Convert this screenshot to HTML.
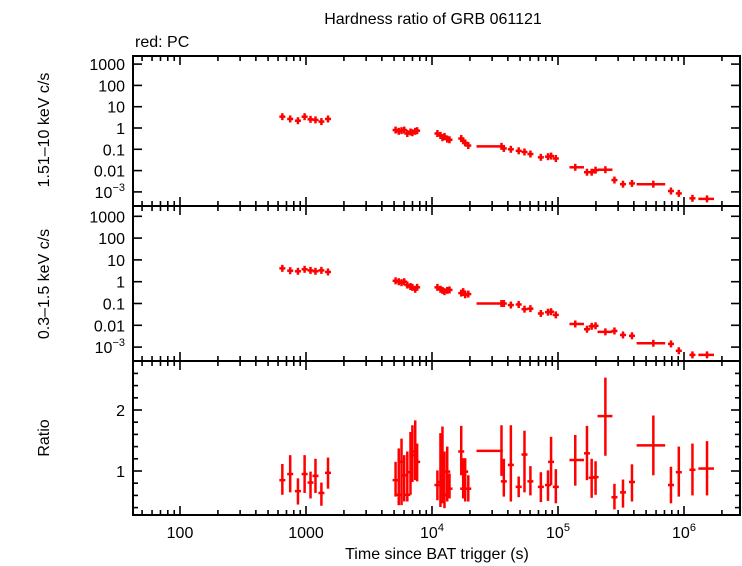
<!DOCTYPE html>
<html><head><meta charset="utf-8"><style>
body{margin:0;background:#fff;}
svg{display:block;font-family:"Liberation Sans",sans-serif;}
</style></head><body>
<svg id="chart" width="742" height="566" viewBox="0 0 742 566">
<text x="433" y="24" font-size="16" text-anchor="middle">Hardness ratio of GRB 061121</text>
<text x="135" y="47" font-size="16">red: PC</text>
<text transform="translate(49,130) rotate(-90)" font-size="16" text-anchor="middle">1.51–10 keV c/s</text>
<text transform="translate(49,284) rotate(-90)" font-size="16" text-anchor="middle">0.3–1.5 keV c/s</text>
<text transform="translate(49,438) rotate(-90)" font-size="16" text-anchor="middle">Ratio</text>
<text x="437" y="559" font-size="16" text-anchor="middle">Time since BAT trigger (s)</text>
<g id="g"></g>
</svg>
<script>
const times=[649,749,863,975,1086,1189,1325,1495,
5140,5445,5730,6020,6370,6750,6990,7360,7620,
11040,11670,12110,12560,13210,13770,
17060,17680,18340,19410,
35600,37150,42250,48750,54200,60400,73100,83300,88100,96100,
137100,169800,185000,198700,237700,280500,328000,386500,571000,788000,909500,1167000,1523000];
const hardRate=[3.4,2.65,2.2,3.4,2.55,2.4,2.0,2.65,
0.8,0.7,0.75,0.8,0.55,0.65,0.6,0.7,0.75,
0.55,0.45,0.35,0.4,0.3,0.28,
0.32,0.25,0.2,0.15,
0.138,0.11,0.1,0.085,0.075,0.06,0.042,0.045,0.048,0.037,
0.0143,0.0084,0.0084,0.0105,0.011,0.0036,0.0023,0.0025,0.0023,0.0011,0.00085,0.0005,0.00047];
const softRate=[4.1,3.2,3.0,3.7,3.3,3.0,3.3,2.8,
1.1,1.0,0.9,1.0,0.7,0.6,0.55,0.45,0.55,
0.55,0.45,0.4,0.35,0.4,0.42,
0.3,0.35,0.25,0.27,
0.1,0.1,0.085,0.09,0.055,0.058,0.035,0.04,0.042,0.03,
0.0115,0.0066,0.009,0.0095,0.005,0.0055,0.0036,0.0033,0.0015,0.0014,0.00068,0.00044,0.00044];
const ratio=[0.85,0.95,0.67,0.95,0.81,0.92,0.64,0.97,
0.85,0.61,1.15,0.93,0.61,0.98,1.26,1.32,1.15,
0.77,0.82,1.09,0.61,0.99,0.71,
1.32,0.71,0.99,0.71,
1.33,0.83,1.1,0.74,1.27,0.83,0.74,0.77,1.15,0.74,
1.18,1.29,0.89,0.9,1.9,0.57,0.65,0.82,1.42,0.77,0.98,1.02,1.04];
const ratioHi=[1.115,1.26,0.88,1.26,0.99,1.2,0.81,1.22,
1.15,1.37,1.53,1.26,1.32,1.64,1.75,1.83,1.45,
1.01,1.62,1.73,1.32,1.4,0.96,
1.74,1.21,1.21,0.93,
1.75,1.2,1.75,0.91,1.66,1.08,0.98,1.01,1.56,1.03,
1.59,1.74,1.2,1.16,2.53,0.79,0.86,1.11,1.91,1.07,1.4,1.45,1.49];
const ratioLo=[0.61,0.65,0.45,0.64,0.55,0.64,0.43,0.71,
0.58,0.44,0.44,0.5,0.5,0.61,0.82,0.85,0.83,
0.52,0.41,0.47,0.39,0.5,0.55,
0.93,0.55,0.5,0.5,
0.92,0.58,0.5,0.57,0.65,0.6,0.49,0.51,0.77,0.47,
0.76,0.85,0.56,0.61,1.25,0.37,0.4,0.5,0.93,0.47,0.58,0.6,0.6];
const wideIdx=[27,37,41,45,49];
const wideLo=[22550,123300,206000,420500,1300000];
const wideHi=[36500,160700,270400,709300,1730000];
const xTickVals=[100,1000,10000,100000,1000000];
const xTickLabels=["100","1000","10^4","10^5","10^6"];
const rateTickVals=[1000,100,10,1,0.1,0.01,0.001];
const rateTickLabels=["1000","100","10","1","0.1","0.01","10^−3"];
const ratioTickVals=[1,2];

const NS="http://www.w3.org/2000/svg";
const g=document.getElementById('g');
const L=133,R=740;
const X=t=>180+126*(Math.log10(t)-2);
const panels=[{top:56,bot:206,y1:128,dec:21.3},{top:206,bot:361,y1:281.7,dec:21.8}];
const rateY=(p,v)=>p.y1-p.dec*Math.log10(v);
const ratioY=r=>471-61*(r-1);
function el(tag,attrs,parent){const e=document.createElementNS(NS,tag);for(const k in attrs)e.setAttribute(k,attrs[k]);(parent||g).appendChild(e);return e;}
function line(x1,y1,x2,y2,c,w){return el('line',{x1,y1,x2,y2,stroke:c,'stroke-width':w});}
function supText(x,y,lab,anchor,name){
  const t=el('text',{x,y,'font-size':16,'text-anchor':anchor});
  
  
  const m=lab.split('^');
  t.appendChild(document.createTextNode(m[0]));
  if(m[1]){const s=el('tspan',{dy:-7,'font-size':11},t);s.textContent=m[1];}
}
// frames
const frames=[[56,206],[206,361],[361,515]];
frames.forEach((f,i)=>{
  const r=el('rect',{x:L,y:f[0],width:R-L,height:f[1]-f[0],fill:'none',stroke:'#000','stroke-width':2});
  
  
  // x ticks
  for(let d=1;d<=7;d++)for(let m=1;m<10;m++){
    const t=m*Math.pow(10,d);const x=X(t);if(x<L+1||x>R-1)continue;
    const len=m==1?9:5;
    line(x,f[0],x,f[0]+len,'#000',1.6);line(x,f[1],x,f[1]-len,'#000',1.6);
  }
});
// rate y ticks
panels.forEach((p,pi)=>{
  rateTickVals.forEach((v,i)=>{
    const y=rateY(p,v);
    line(L,y,L+9,y,'#000',1.6);line(R,y,R-9,y,'#000',1.6);
    supText(125,y+6,rateTickLabels[i],'end','y-tick-label-'+(pi+1));
  });
});
// ratio ticks
for(let k=0;k<=12;k++){const r=0.4+0.2*k;const y=ratioY(r);if(y<362||y>514)continue;
  const maj=Math.abs(r-Math.round(r))<0.01;
  line(L,y,L+(maj?9:5),y,'#000',1.6);line(R,y,R-(maj?9:5),y,'#000',1.6);}
ratioTickVals.forEach(v=>supText(125,ratioY(v)+6,String(v),'end','ratio-tick-label'));
xTickVals.forEach((v,i)=>supText(X(v),538,xTickLabels[i],'middle','x-tick-label'));

function xr(i){const w=wideIdx.indexOf(i);if(w>=0)return [X(wideLo[w]),X(wideHi[w])];const x=X(times[i]);return [x-3,x+3];}
const red='#ff0000';
// rate panels
[[hardRate,panels[0],'hard-rate-point'],[softRate,panels[1],'soft-rate-point']].forEach(([arr,p,name])=>{
  arr.forEach((v,i)=>{
    const x=X(times[i]),y=rateY(p,v);const [a,b]=xr(i);
    const grp=el('g',{});
    
    
    line(a,y,b,y,red,2.5).remove();grp.appendChild(line(a,y,b,y,red,2.5));
    grp.appendChild(line(x,y-3.5,x,y+3.5,red,2.5));
  });
});
// ratio panel
ratio.forEach((r,i)=>{
  const x=X(times[i]),y=ratioY(r);const [a,b]=xr(i);
  const grp=el('g',{});
  
  
  grp.appendChild(line(a,y,b,y,red,2.5));
  grp.appendChild(line(x,ratioY(ratioHi[i]),x,Math.min(ratioY(ratioLo[i]),514),red,2.5));
});
</script>
</body></html>
